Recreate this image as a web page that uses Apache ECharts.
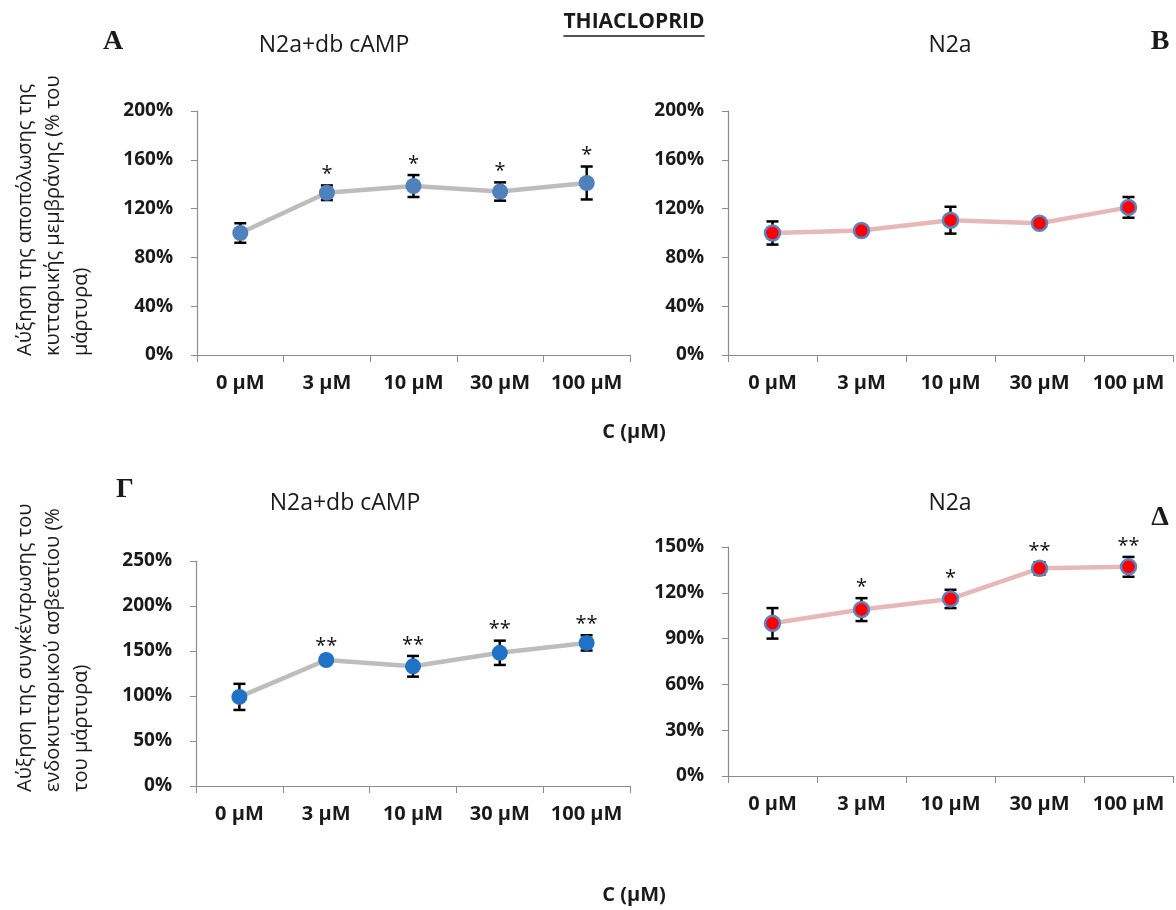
<!DOCTYPE html>
<html>
<head>
<meta charset="utf-8">
<script src="https://cdn.jsdelivr.net/npm/echarts@6/dist/echarts.min.js"></script>
<style>
  html, body { margin: 0; padding: 0; background: #fff; }
  #main { width: 1176px; height: 910px; }
</style>
</head>
<body>
<div id="main"></div>
<script>
// concentrations
var categories = ['0 μM', '3 μM', '10 μM', '30 μM', '100 μM'];

// A: N2a+db cAMP, membrane depolarisation (% of control)
var meanA = [100, 133, 138.5, 134, 141];
var errA = [8, 6, 9, 7.5, 13.5];
var starsA = ['', '*', '*', '*', '*'];

// B: N2a, membrane depolarisation
var meanB = [100, 102, 110.5, 108, 121];
var errB = [9.5, 1.5, 11, 1, 8.5];
var starsB = ['', '', '', '', ''];

// Γ: N2a+db cAMP, intracellular calcium
var meanG = [99, 140, 133, 148, 159];
var errG = [14.5, 3, 11.5, 13.5, 8.5];
var starsG = ['', '**', '**', '**', '**'];

// Δ: N2a, intracellular calcium
var meanD = [100, 109, 116, 136, 137];
var errD = [10, 7.5, 6, 4, 6.5];
var starsD = ['', '*', '*', '**', '**'];

// y axis ranges
var yTop = { max: 200, interval: 40 };
var yGamma = { max: 250, interval: 50 };
var yDelta = { max: 150, interval: 30 };

var FONT = '"Open Sans", "DejaVu Sans", sans-serif';
var axisColor = '#8c8c8c';

var dom = document.getElementById('main');
var myChart = echarts.init(dom);

function errorBars(stars) {
  return function (params, api) {
    var i = api.value(0);
    var m = api.value(1);
    var e = api.value(2);
    var hi = api.coord([i, m + e]);
    var lo = api.coord([i, m - e]);
    var cap = 6;
    var st = { stroke: '#000', lineWidth: 2.5 };
    return {
      type: 'group',
      children: [
        { type: 'line', shape: { x1: hi[0], y1: hi[1], x2: lo[0], y2: lo[1] }, style: st },
        { type: 'line', shape: { x1: hi[0] - cap, y1: hi[1], x2: hi[0] + cap, y2: hi[1] }, style: st },
        { type: 'line', shape: { x1: lo[0] - cap, y1: lo[1], x2: lo[0] + cap, y2: lo[1] }, style: st },
        {
          type: 'text',
          style: {
            text: stars[params.dataIndex],
            x: hi[0], y: hi[1] - 1,
            align: 'center', verticalAlign: 'bottom',
            font: '20px ' + FONT, fill: '#111'
          }
        }
      ]
    };
  };
}

var grids = [], xAxes = [], yAxes = [], series = [];

function panel(box, yr, mean, err, stars, lineColor, fill, border) {
  var k = grids.length;
  grids.push({ left: box[0], top: box[1], width: box[2], height: box[3], containLabel: false });
  xAxes.push({
    type: 'category', gridIndex: k, data: categories, boundaryGap: true,
    axisLine: { lineStyle: { color: axisColor, width: 1.2 } },
    axisTick: { show: true, length: 7, lineStyle: { color: axisColor } },
    axisLabel: { interval: 0, hideOverlap: false, color: '#1a1a1a', fontFamily: FONT, fontWeight: 'bold', fontSize: 20, margin: 18 },
    splitLine: { show: false }
  });
  yAxes.push({
    type: 'value', gridIndex: k, min: 0, max: yr.max, interval: yr.interval,
    axisLine: { show: true, lineStyle: { color: axisColor, width: 1.2 } },
    axisTick: { show: true, length: 6, lineStyle: { color: axisColor } },
    axisLabel: { color: '#1a1a1a', fontFamily: FONT, fontWeight: 'bold', fontSize: 19, margin: 24, formatter: '{value}%' },
    splitLine: { show: false }
  });
  series.push({
    type: 'custom', xAxisIndex: k, yAxisIndex: k, z: 1,
    renderItem: errorBars(stars),
    encode: { x: 0, y: 1 },
    data: mean.map(function (m, i) { return [i, m, err[i]]; })
  });
  series.push({
    type: 'line', xAxisIndex: k, yAxisIndex: k, z: 3,
    data: mean,
    symbol: 'circle', symbolSize: border ? 15 : 16,
    lineStyle: { color: lineColor, width: 4.5 },
    itemStyle: { color: fill, borderColor: border || fill, borderWidth: border ? 2.5 : 0 }
  });
}

panel([197, 111, 433, 244], yTop, meanA, errA, starsA, '#bdbdbd', '#4f81bd');
panel([728, 111, 445, 244], yTop, meanB, errB, starsB, '#e6b9b8', '#ff0000', '#5b84c4');
panel([196, 561, 434, 225], yGamma, meanG, errG, starsG, '#bdbdbd', '#1f72c6');
panel([728, 547, 445, 229], yDelta, meanD, errD, starsD, '#e6b9b8', '#ff0000', '#5b84c4');

// underline width for the main title
var cv = document.createElement('canvas').getContext('2d');
cv.font = 'bold 21px "Open Sans"';
var tw = cv.measureText('THIACLOPRID').width;

function txt(x, y, s, font, extra) {
  var o = { type: 'text', x: x, y: y, style: { text: s, font: font, fill: '#1a1a1a', align: 'center', verticalAlign: 'middle' } };
  if (extra) Object.assign(o.style, extra);
  return o;
}

var serif = 'bold 28px "Liberation Serif", "DejaVu Serif", serif';
var graphics = [
  txt(634, 22, 'THIACLOPRID', 'bold 21px ' + FONT),
  { type: 'line', shape: { x1: 634 - tw / 2, y1: 36, x2: 634 + tw / 2, y2: 36 }, style: { stroke: '#1a1a1a', lineWidth: 1.5 } },
  txt(113, 42, 'A', serif),
  txt(1160, 42, 'B', serif),
  txt(125, 490, 'Γ', serif),
  txt(1160, 518, 'Δ', serif),
  txt(334, 45, 'N2a+db cAMP', '23px ' + FONT),
  txt(950, 45, 'N2a', '23px ' + FONT),
  txt(345, 503, 'N2a+db cAMP', '23px ' + FONT),
  txt(950, 503, 'N2a', '23px ' + FONT),
  txt(634, 432, 'C (μM)', 'bold 20px ' + FONT),
  txt(634, 895, 'C (μM)', 'bold 20px ' + FONT),
  {
    type: 'text', x: 11, y: 356, rotation: Math.PI / 2,
    style: {
      text: 'Αύξηση της αποπόλωσης της\nκυτταρικής μεμβράνης (% του\nμάρτυρα)',
      font: '20px ' + FONT, fill: '#1a1a1a', align: 'left', verticalAlign: 'top', lineHeight: 28
    }
  },
  {
    type: 'text', x: 11, y: 792, rotation: Math.PI / 2,
    style: {
      text: 'Αύξηση της συγκέντρωσης του\nενδοκυτταρικού ασβεστίου (%\nτου μάρτυρα)',
      font: '20px ' + FONT, fill: '#1a1a1a', align: 'left', verticalAlign: 'top', lineHeight: 28
    }
  }
];

var option = {
  animation: false,
  backgroundColor: '#fff',
  grid: grids,
  xAxis: xAxes,
  yAxis: yAxes,
  series: series,
  graphic: graphics
};

myChart.setOption(option, true);
</script>
</body>
</html>
